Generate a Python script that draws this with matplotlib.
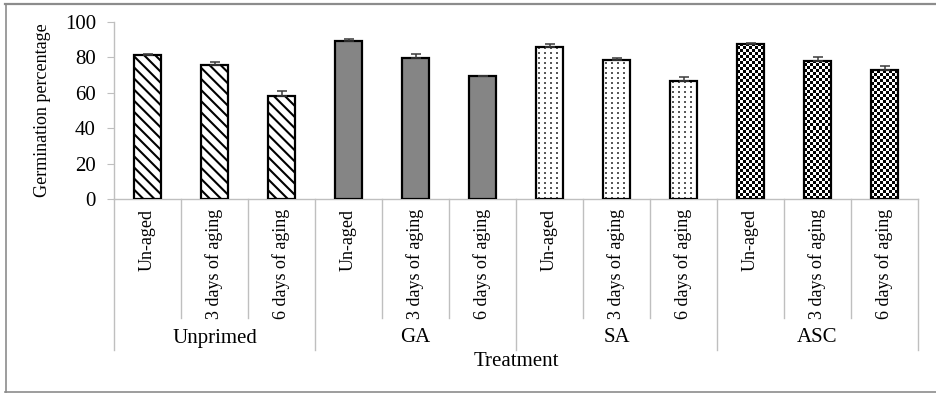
import numpy as np
import matplotlib
matplotlib.use('Agg')
import matplotlib.pyplot as plt
from matplotlib.lines import Line2D

plt.rcParams['font.family'] = ['Liberation Serif', 'DejaVu Serif']
plt.rcParams['hatch.linewidth'] = 1.5

# Germination (%) per priming treatment and aging period
treatments = ['Unprimed', 'GA', 'SA', 'ASC']
aging = ['Un-aged', '3 days of aging', '6 days of aging']
unprimed = [81.4, 75.7, 58.4]
ga = [89.4, 79.8, 69.7]
sa = [85.7, 78.4, 66.8]
asc = [87.4, 78.2, 72.7]
unprimed_err = [0.8, 1.8, 2.6]
ga_err = [1.0, 2.0, 0.0]
sa_err = [2.0, 1.0, 2.0]
asc_err = [0.8, 1.8, 2.4]

values = unprimed + ga + sa + asc
errors = unprimed_err + ga_err + sa_err + asc_err
labels = aging * len(treatments)
x = np.arange(len(values))
width = 0.4

W, H = 936, 393
fig = plt.figure(figsize=(W / 100, H / 100), dpi=100)
ax = fig.add_axes([114 / W, 1 - 199 / H, 804 / W, 177 / H])
ax.set_xlim(-0.5, len(values) - 0.5)
ax.set_ylim(0, 100)

grey = '#bfbfbf'

# bar faces
faces = ['white'] * 3 + ['#858585'] * 3 + ['white'] * 6
hatches = ['\\\\\\'] * 3 + [''] * 9
bars = ax.bar(x, values, width, color=faces, zorder=2)
for b, h in zip(bars, hatches):
    b.set_hatch(h)
    b.set_edgecolor('black')
    b.set_linewidth(0)

# pixel textures for SA (dots) and ASC (checks)
p0 = ax.transData.transform((0, 0))
p1 = ax.transData.transform((1, 1))
px_x, px_y = p1[0] - p0[0], p1[1] - p0[1]


def texture(kind, wpx, hpx):
    iy, ix = np.mgrid[0:hpx, 0:wpx]
    if kind == 'dots':
        img = np.ones((hpx, wpx))
        mask = ((ix - 2) % 6 < 2) & (iy % 5 < 2)
        img[mask] = 0.35
    else:
        img = (((ix // 3) + (iy // 3)) % 2).astype(float)
    return img


for i, b in enumerate(bars):
    if i < 6:
        continue
    kind = 'dots' if i < 9 else 'checks'
    wpx = int(round(width * px_x))
    hpx = int(round(values[i] * px_y))
    img = texture(kind, wpx, hpx)
    x0 = b.get_x()
    im = ax.imshow(img, extent=(x0, x0 + width, 0, values[i]), cmap='gray',
                   vmin=0, vmax=1, interpolation='nearest', aspect='auto',
                   origin='lower', zorder=2.2)
    im.set_clip_path(b)

ax.set_xlim(-0.5, len(values) - 0.5)
ax.set_ylim(0, 100)

# bar outlines on top of the fills
ax.bar(x, values, width, fill=False, edgecolor='black', linewidth=1.6,
       zorder=3)
ax.errorbar(x, values, yerr=[np.zeros(len(errors)), errors], fmt='none',
            ecolor='#3a3a3a', elinewidth=1.1, capsize=3.8, capthick=1.1,
            zorder=4)

# axes styling
for s in ['top', 'right']:
    ax.spines[s].set_visible(False)
ax.spines['left'].set_color(grey)
ax.spines['bottom'].set_color(grey)
ax.spines['left'].set_linewidth(1.0)
ax.spines['bottom'].set_linewidth(1.0)
ax.set_yticks(range(0, 101, 20))
ax.tick_params(axis='y', length=5, color=grey, labelsize=15, pad=8)
ax.set_xticks([])
ax.set_ylabel('Germination percentage', fontsize=13, labelpad=10)

# two-level category axis
tr = ax.get_xaxis_transform()
short_y = -(318 - 199) / 177
long_y = -(350 - 199) / 177
for k in range(len(values) + 1):
    y_end = long_y if k % 3 == 0 else short_y
    ax.plot([k - 0.5, k - 0.5], [0, y_end], color=grey, lw=1.0,
            transform=tr, clip_on=False)
for xi, lab in zip(x, labels):
    ax.text(xi, -(209 - 199) / 177, lab, rotation=90, ha='center', va='top',
            fontsize=13, transform=tr)
for g, name in enumerate(treatments):
    ax.text(3 * g + 1, -(338 - 199) / 177, name, ha='center', va='center',
            fontsize=15, transform=tr)
ax.text(0.5, -(362 - 199) / 177, 'Treatment', ha='center', va='center',
        fontsize=15, transform=ax.transAxes)

# outer frame
fc = '#8c8c8c'
fig.add_artist(Line2D([5.5 / W, 5.5 / W], [1 - 4 / H, 1 - 392 / H],
                      color=fc, lw=1.2))
fig.add_artist(Line2D([5 / W, 1], [1 - 4 / H, 1 - 4 / H], color=fc, lw=1.6))
fig.add_artist(Line2D([5 / W, 1], [1 - 391.5 / H, 1 - 391.5 / H],
                      color=fc, lw=1.2))

fig.savefig('out.png', dpi=100)
